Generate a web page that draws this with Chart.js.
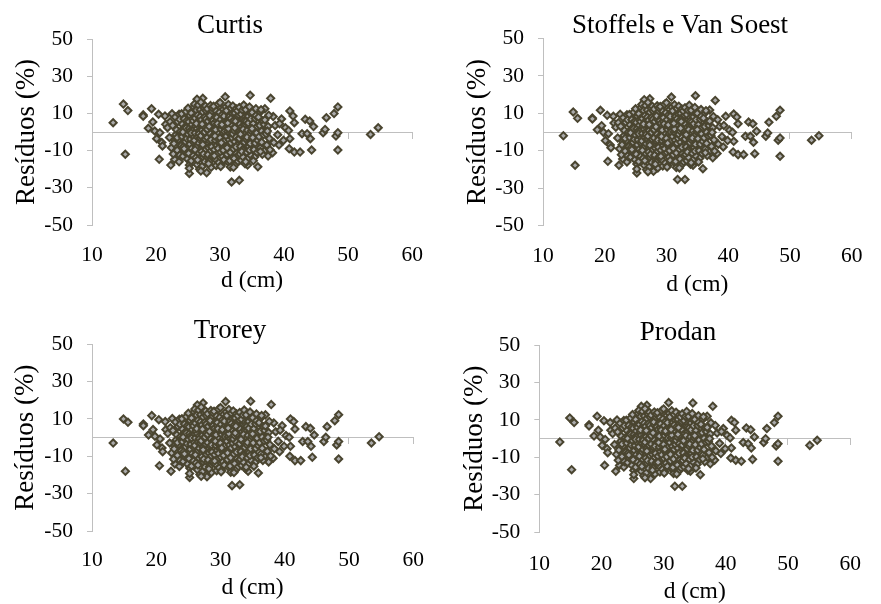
<!DOCTYPE html>
<html lang="pt">
<head>
<meta charset="utf-8">
<title>Resíduos por modelo</title>
<script src="https://cdn.jsdelivr.net/npm/chart.js@4.4.1/dist/chart.umd.min.js"></script>
<style>
  html, body { margin: 0; padding: 0; background: #fff; }
  #grade { position: relative; width: 881px; height: 604px; }
  .painel { position: absolute; width: 440px; height: 302px; }
</style>
</head>
<body>
<div id="grade">
  <div class="painel" style="left:0;top:0"><canvas id="g1" width="440" height="302"></canvas></div>
  <div class="painel" style="left:440px;top:0"><canvas id="g2" width="440" height="302"></canvas></div>
  <div class="painel" style="left:0;top:302px"><canvas id="g3" width="440" height="302"></canvas></div>
  <div class="painel" style="left:440px;top:302px"><canvas id="g4" width="440" height="302"></canvas></div>
</div>
<script>
// Diâmetro (d, cm) de cada árvore - o mesmo nos quatro modelos
const diametros = [
  13.3, 14.9, 15.6, 15.2, 18.0, 18.0, 19.3, 19.5, 18.8, 19.8,
  20.1, 20.4, 20.6, 20.9, 21.0, 20.5, 21.4, 21.5, 21.8, 22.1,
  22.3, 22.9, 23.6, 25.2, 25.2, 27.9, 31.8, 33.0, 34.3, 35.9,
  30.8, 34.7, 27.3, 26.4, 37.9, 38.3, 39.6, 40.9, 41.4, 41.6,
  40.2, 40.7, 40.9, 39.9, 40.8, 41.6, 42.5, 42.8, 43.3, 44.0,
  44.6, 43.6, 44.1, 44.3, 46.1, 46.4, 46.6, 47.8, 48.4, 48.1,
  48.4, 48.4, 53.5, 54.7, 38.4, 39.2, 37.5, 38.2, 36.9, 38.6,
  39.3, 37.2, 39.0, 37.0, 36.2,
  22.2, 22.4, 22.5, 22.7, 22.9,
  22.6, 22.8, 23.0, 23.1, 23.2, 23.3, 23.4, 23.5, 23.6, 23.7, 23.8, 23.9, 23.3, 23.7,
  24.0, 24.1, 24.1, 24.2, 24.3, 24.3, 24.4, 24.5, 24.5, 24.6, 24.6, 24.7, 24.8, 24.8, 24.9, 24.2, 24.4, 24.7,
  25.0, 25.0, 25.1, 25.1, 25.2, 25.3, 25.3, 25.4, 25.4, 25.5, 25.5, 25.6, 25.6, 25.7, 25.7, 25.8, 25.8, 25.9, 25.9, 25.2, 25.5, 25.8,
  26.0, 26.0, 26.1, 26.1, 26.2, 26.2, 26.3, 26.3, 26.4, 26.4, 26.5, 26.5, 26.5, 26.6, 26.6, 26.7, 26.7, 26.8, 26.8, 26.9, 26.9, 26.1, 26.3, 26.5, 26.7, 26.9,
  27.0, 27.0, 27.1, 27.1, 27.2, 27.2, 27.3, 27.3, 27.4, 27.4, 27.5, 27.5, 27.5, 27.6, 27.6, 27.7, 27.7, 27.8, 27.8, 27.9, 27.9, 27.0, 27.2, 27.4, 27.6, 27.8, 27.3, 27.7,
  28.0, 28.0, 28.1, 28.1, 28.2, 28.2, 28.3, 28.3, 28.4, 28.4, 28.5, 28.5, 28.5, 28.6, 28.6, 28.7, 28.7, 28.8, 28.8, 28.9, 28.9, 28.0, 28.2, 28.4, 28.6, 28.8, 28.3, 28.7,
  29.0, 29.0, 29.1, 29.1, 29.2, 29.2, 29.3, 29.3, 29.4, 29.4, 29.5, 29.5, 29.5, 29.6, 29.6, 29.7, 29.7, 29.8, 29.8, 29.9, 29.9, 29.1, 29.3, 29.5, 29.7, 29.9, 29.2, 29.6,
  30.0, 30.0, 30.1, 30.1, 30.2, 30.2, 30.3, 30.3, 30.4, 30.4, 30.5, 30.5, 30.5, 30.6, 30.6, 30.7, 30.7, 30.8, 30.8, 30.9, 30.9, 30.1, 30.3, 30.5, 30.7, 30.9, 30.2, 30.6,
  31.0, 31.0, 31.1, 31.1, 31.2, 31.2, 31.3, 31.3, 31.4, 31.4, 31.5, 31.5, 31.5, 31.6, 31.6, 31.7, 31.7, 31.8, 31.8, 31.9, 31.9, 31.1, 31.3, 31.5, 31.7, 31.9, 31.2, 31.6,
  32.0, 32.0, 32.1, 32.1, 32.2, 32.2, 32.3, 32.3, 32.4, 32.4, 32.5, 32.5, 32.6, 32.6, 32.7, 32.7, 32.8, 32.8, 32.9, 32.9, 32.1, 32.3, 32.5, 32.7, 32.9, 32.4,
  33.0, 33.0, 33.1, 33.1, 33.2, 33.2, 33.3, 33.3, 33.4, 33.4, 33.5, 33.5, 33.6, 33.6, 33.7, 33.7, 33.8, 33.8, 33.9, 33.9, 33.2, 33.4, 33.6, 33.8,
  34.0, 34.1, 34.1, 34.2, 34.3, 34.3, 34.4, 34.5, 34.5, 34.6, 34.6, 34.7, 34.8, 34.8, 34.9, 34.2, 34.4, 34.6, 34.8, 34.0,
  35.0, 35.1, 35.2, 35.3, 35.3, 35.4, 35.5, 35.5, 35.6, 35.7, 35.8, 35.8, 35.9, 35.2, 35.6, 35.0,
  36.0, 36.1, 36.2, 36.3, 36.4, 36.5, 36.5, 36.6, 36.7, 36.8, 36.9, 36.3,
  37.0, 37.2, 37.3, 37.5, 37.6, 37.7, 37.8, 37.4
];

// Resíduos (%) de cada modelo, na mesma ordem das árvores
const resCurtis = [
  5.0, 15.0, 11.5, -12.0, 9.2, 8.5, 12.5, 5.4, 2.0, 0.5,
  -3.6, 9.5, -0.4, -5.7, -7.5, -14.7, 8.6, 4.1, 2.3, -3.0,
  -17.8, -14.7, -16.0, -22.3, -17.8, -21.9, -26.9, -26.0, -17.8, -18.7,
  18.9, 19.7, 18.1, 17.6, 18.1, 8.3, 7.0, 11.3, 8.6, 5.0,
  2.3, 0.8, -3.6, -4.5, -9.0, -10.8, -10.8, -0.9, 6.8, 5.9,
  2.9, -0.9, -3.6, -9.7, -0.4, 1.4, 7.7, 9.9, 13.5, -2.2,
  -0.4, -9.7, -1.3, 2.3, -5.7, -7.0, -12.9, -11.1, -10.2, 3.5,
  4.5, 1.0, -1.5, 12.5, 10.5,
  5.5, -8.5, 9.8, -11.8, -4.5,
  3.5, -6.2, 8.0, -1.5, 1.2, -9.8, 5.6, -4.0, 9.5, -12.5, 0.3, -7.4, -3.0, 6.8,
  9.8, -2.5, 4.2, -13.0, 1.5, -7.8, 7.0, -0.8, -10.6, 3.0, -5.2, 11.0, -3.5, 6.0, -14.5, 0.0, -9.0, 2.2,
  12.8, -1.2, 5.5, -11.5, 2.0, -6.5, 8.8, -3.8, 0.8, -15.5, 10.2, -8.8, 4.0, -2.0, 7.2, -12.8, 1.0, -5.5, 13.5, -19.5, -0.5, 6.0,
  15.0, -4.5, 7.5, -0.5, -13.8, 3.2, 11.8, -8.0, 1.8, -17.5, 9.0, -2.8, 5.2, -11.0, 14.5, -6.0, 0.5, -20.0, 6.8, -3.2, 12.0, -9.5, 4.5, -15.0, -1.0, 8.2,
  16.0, -2.0, 6.5, -10.5, 1.0, -18.5, 10.8, -5.5, 3.5, -13.5, 13.0, -0.2, -7.5, 8.0, -16.0, 2.5, -3.8, 11.5, -9.2, 5.0, -1.5, -21.0, 4.2, -11.8, 0.0, 7.0, -6.8, 14.0,
  12.5, -3.0, 5.8, -12.2, 0.5, -8.5, 9.5, -15.8, 2.8, -5.0, 14.2, -1.0, 7.2, -19.0, -10.0, 4.0, 11.0, -2.5, -13.0, 6.2, -6.0, 1.5, -17.0, 8.8, -4.2, 13.0, 3.0, -8.0,
  13.8, -1.8, 4.8, -9.5, 0.8, -14.5, 8.2, -4.5, 11.2, -18.0, 2.0, -7.0, 6.0, -11.5, -0.5, 15.0, -3.5, 9.8, -16.5, 3.5, -6.2, -12.8, 1.2, 7.8, -8.8, 10.5, -2.2, 4.5,
  15.8, -3.2, 6.8, -10.8, 1.5, -17.8, 9.2, -6.5, 3.2, -13.2, 12.2, -0.8, -8.2, 5.5, -15.0, 2.2, -4.8, 10.8, -11.2, 7.5, -1.2, -18.5, 4.0, -9.8, 0.2, 13.5, -5.8, 8.5,
  11.5, -2.2, 5.2, -12.0, 0.2, -7.2, 14.8, -16.2, 2.5, -4.2, 8.5, -10.2, -0.5, 6.5, -18.8, 12.8, -5.8, 3.8, -13.8, 9.8, -1.5, -8.5, 1.8, -15.5, 7.2, -3.2, 4.8, -11.0,
  14.0, -1.0, 6.2, -9.0, 0.8, -14.2, 10.2, -5.2, 3.0, -17.5, 12.5, -2.8, -11.5, 7.8, -7.0, 1.2, -15.8, 4.5, 9.2, -3.8, -19.0, 2.2, -8.0, 11.5, -12.5, 5.8,
  13.2, -3.5, 4.2, -11.8, 0.0, -7.8, 9.5, -15.2, 2.8, -2.0, 11.8, -9.5, 6.8, -13.5, -0.2, 14.5, -5.5, 3.5, -17.0, 8.0, -1.2, -10.5, 1.5, 6.0,
  12.0, -4.0, 5.8, -11.0, 1.0, -14.5, 8.5, -1.8, -8.0, 3.2, 13.5, -6.2, 10.0, -12.5, 0.5, -2.8, 4.8, -9.8, 7.0, -16.0,
  10.5, -3.0, 4.5, -9.5, 0.8, -13.5, 7.2, -6.0, 12.5, -0.5, -11.0, 3.0, -4.5, -15.5, 8.8, 1.8,
  8.0, -2.5, 3.5, -8.5, 12.0, -5.5, 0.5, -12.0, 6.0, -1.5, 4.0, -10.5,
  6.5, -1.0, -7.0, 3.0, 9.0, -3.5, -9.5, 0.5
];

const resStoffels = [
  -2.0, 10.7, 7.3, -17.8, 7.5, 7.0, 11.6, 3.4, 1.2, -0.2,
  -4.6, 8.9, -0.9, -6.9, -8.4, -15.7, 8.4, 4.8, 2.5, -3.2,
  -17.8, -14.4, -16.0, -21.9, -17.1, -21.0, -25.4, -25.4, -17.8, -19.6,
  18.7, 19.4, 17.8, 17.3, 16.9, 6.6, 8.4, 9.6, 8.0, 4.4,
  1.0, -0.2, -5.0, -4.6, -10.7, -12.1, -12.1, -2.3, 5.3, 4.4,
  0.4, -2.3, -5.5, -11.6, -2.3, -0.5, 5.2, 8.4, 11.6, -4.4,
  -3.2, -13.0, -4.4, -2.0, -6.5, -8.0, -13.8, -11.5, -10.5, 3.0,
  3.5, 0.2, -2.5, 11.8, 10.0,
  5.0, -9.0, 9.5, -12.2, -5.0,
  3.0, -6.8, 7.6, -2.0, 0.8, -10.2, 5.2, -4.5, 9.2, -12.8, -0.2, -7.8, -3.4, 6.5,
  9.4, -3.0, 3.8, -13.4, 1.0, -8.2, 6.6, -1.2, -11.0, 2.6, -5.6, 10.6, -3.9, 5.6, -14.8, -0.4, -9.4, 1.8,
  12.4, -1.6, 5.1, -11.9, 1.6, -6.9, 8.4, -4.2, 0.4, -15.8, 9.8, -9.2, 3.6, -2.4, 6.8, -13.1, 0.6, -5.9, 13.1, -19.8, -0.9, 5.6,
  14.7, -4.8, 7.2, -0.8, -14.1, 2.9, 11.5, -8.3, 1.5, -17.8, 8.7, -3.1, 4.9, -11.3, 14.2, -6.3, 0.2, -20.2, 6.5, -3.5, 11.7, -9.8, 4.2, -15.3, -1.3, 7.9,
  15.8, -2.2, 6.3, -10.7, 0.8, -18.7, 10.6, -5.7, 3.3, -13.7, 12.8, -0.4, -7.7, 7.8, -16.2, 2.3, -4.0, 11.3, -9.4, 4.8, -1.7, -21.2, 4.0, -12.0, -0.2, 6.8, -7.0, 13.8,
  12.3, -3.2, 5.6, -12.4, 0.3, -8.7, 9.3, -16.0, 2.6, -5.2, 14.0, -1.2, 7.0, -19.2, -10.2, 3.8, 10.8, -2.7, -13.2, 6.0, -6.2, 1.3, -17.2, 8.6, -4.4, 12.8, 2.8, -8.2,
  13.6, -2.0, 4.6, -9.7, 0.6, -14.7, 8.0, -4.7, 11.0, -18.2, 1.8, -7.2, 5.8, -11.7, -0.7, 14.8, -3.7, 9.6, -16.7, 3.3, -6.4, -13.0, 1.0, 7.6, -9.0, 10.3, -2.4, 4.3,
  15.6, -3.4, 6.6, -11.0, 1.3, -18.0, 9.0, -6.7, 3.0, -13.4, 12.0, -1.0, -8.4, 5.3, -15.2, 2.0, -5.0, 10.6, -11.4, 7.3, -1.4, -18.7, 3.8, -10.0, 0.0, 13.3, -6.0, 8.3,
  11.3, -2.4, 5.0, -12.2, 0.0, -7.4, 14.6, -16.4, 2.3, -4.4, 8.3, -10.4, -0.7, 6.3, -19.0, 12.6, -6.0, 3.6, -14.0, 9.6, -1.7, -8.7, 1.6, -15.7, 7.0, -3.4, 4.6, -11.2,
  13.8, -1.2, 6.0, -9.2, 0.6, -14.4, 10.0, -5.4, 2.8, -17.7, 12.3, -3.0, -11.7, 7.6, -7.2, 1.0, -16.0, 4.3, 9.0, -4.0, -19.2, 2.0, -8.2, 11.3, -12.7, 5.6,
  13.0, -3.7, 4.0, -12.0, -0.2, -8.0, 9.3, -15.4, 2.6, -2.2, 11.6, -9.7, 6.6, -13.7, -0.4, 14.3, -5.7, 3.3, -17.2, 7.8, -1.4, -10.7, 1.3, 5.8,
  11.6, -4.4, 5.4, -11.4, 0.6, -14.9, 8.1, -2.2, -8.4, 2.8, 13.1, -6.6, 9.6, -12.9, 0.1, -3.2, 4.4, -10.2, 6.6, -16.4,
  10.0, -3.5, 4.0, -10.0, 0.3, -14.0, 6.7, -6.5, 12.0, -1.0, -11.5, 2.5, -5.0, -16.0, 8.3, 1.3,
  7.4, -3.1, 2.9, -9.1, 11.4, -6.1, -0.1, -12.6, 5.4, -2.1, 3.4, -11.1,
  5.8, -1.7, -7.7, 2.3, 8.3, -4.2, -10.2, -0.2
];

const resTrorey = [
  -2.9, 10.0, 8.2, -18.0, 7.3, 6.4, 11.8, 4.3, 1.4, 0.7,
  -3.9, 9.6, -0.7, -5.5, -7.5, -15.0, 8.6, 4.3, 2.3, -2.9,
  -18.0, -14.1, -15.4, -21.3, -16.3, -20.9, -25.7, -25.2, -18.0, -18.9,
  19.3, 19.5, 18.6, 17.5, 17.7, 7.9, 6.4, 10.0, 8.6, 4.6,
  1.1, 0.2, -4.6, -4.6, -10.0, -12.3, -12.3, -2.1, 5.9, 5.0,
  1.4, -2.1, -4.6, -10.5, -2.1, 0.2, 5.9, 9.1, 12.3, -3.9,
  -2.1, -11.4, -2.9, 0.5, -6.0, -7.5, -13.0, -11.0, -10.0, 3.2,
  4.0, 0.5, -2.0, 12.2, 10.2,
  5.3, -8.2, 10.2, -11.5, -4.2,
  3.8, -6.0, 8.4, -1.2, 1.5, -9.5, 6.0, -3.7, 9.9, -12.2, 0.6, -7.1, -2.7, 7.1,
  10.1, -2.2, 4.5, -12.7, 1.8, -7.5, 7.3, -0.5, -10.3, 3.3, -4.9, 11.3, -3.2, 6.3, -14.2, 0.3, -8.7, 2.5,
  13.1, -0.9, 5.8, -11.2, 2.3, -6.2, 9.1, -3.5, 1.1, -15.2, 10.5, -8.5, 4.3, -1.7, 7.5, -12.5, 1.3, -5.2, 13.8, -19.2, -0.2, 6.3,
  15.3, -4.2, 7.8, -0.2, -13.5, 3.5, 12.1, -7.7, 2.1, -17.2, 9.3, -2.5, 5.5, -10.7, 14.8, -5.7, 0.8, -19.7, 7.1, -2.9, 12.3, -9.2, 4.8, -14.7, -0.7, 8.5,
  16.3, -1.7, 6.8, -10.2, 1.3, -18.2, 11.1, -5.2, 3.8, -13.2, 13.3, 0.1, -7.2, 8.3, -15.7, 2.8, -3.5, 11.8, -8.9, 5.3, -1.2, -20.7, 4.5, -11.5, 0.3, 7.3, -6.5, 14.3,
  12.8, -2.7, 6.1, -11.9, 0.8, -8.2, 9.8, -15.5, 3.1, -4.7, 14.5, -0.7, 7.5, -18.7, -9.7, 4.3, 11.3, -2.2, -12.7, 6.5, -5.7, 1.8, -16.7, 9.1, -3.9, 13.3, 3.3, -7.7,
  14.1, -1.5, 5.1, -9.2, 1.1, -14.2, 8.5, -4.2, 11.5, -17.7, 2.3, -6.7, 6.3, -11.2, -0.2, 15.3, -3.2, 10.1, -16.2, 3.8, -5.9, -12.5, 1.5, 8.1, -8.5, 10.8, -1.9, 4.8,
  16.1, -2.9, 7.1, -10.5, 1.8, -17.5, 9.5, -6.2, 3.5, -12.9, 12.5, -0.5, -7.9, 5.8, -14.7, 2.5, -4.5, 11.1, -10.9, 7.8, -0.9, -18.2, 4.3, -9.5, 0.5, 13.8, -5.5, 8.8,
  11.8, -1.9, 5.5, -11.7, 0.5, -6.9, 15.1, -15.9, 2.8, -3.9, 8.8, -9.9, -0.2, 6.8, -18.5, 13.1, -5.5, 4.1, -13.5, 10.1, -1.2, -8.2, 2.1, -15.2, 7.5, -2.9, 5.1, -10.7,
  14.3, -0.7, 6.5, -8.7, 1.1, -13.9, 10.5, -4.9, 3.3, -17.2, 12.8, -2.5, -11.2, 8.1, -6.7, 1.5, -15.5, 4.8, 9.5, -3.5, -18.7, 2.5, -7.7, 11.8, -12.2, 6.1,
  13.5, -3.2, 4.5, -11.5, 0.3, -7.5, 9.8, -14.9, 3.1, -1.7, 12.1, -9.2, 7.1, -13.2, 0.1, 14.8, -5.2, 3.8, -16.7, 8.3, -0.9, -10.2, 1.8, 6.3,
  12.2, -3.8, 6.0, -10.8, 1.2, -14.3, 8.7, -1.6, -7.8, 3.4, 13.7, -6.0, 10.2, -12.3, 0.7, -2.6, 5.0, -9.6, 7.2, -15.8,
  10.7, -2.8, 4.7, -9.3, 1.0, -13.3, 7.4, -5.8, 12.7, -0.3, -10.8, 3.2, -4.3, -15.3, 9.0, 2.0,
  8.0, -2.7, 3.3, -8.7, 11.8, -5.7, 0.3, -12.2, 5.8, -1.7, 3.8, -10.7,
  6.2, -1.3, -7.3, 2.7, 8.7, -3.8, -9.8, 0.2
];

const resProdan = [
  -1.8, 11.1, 8.6, -16.6, 7.5, 6.8, 12.0, 4.5, 1.4, 0.9,
  -3.6, 9.6, -0.4, -5.4, -7.5, -14.3, 8.6, 4.5, 2.7, -3.2,
  -17.5, -14.3, -15.2, -21.4, -17.0, -21.4, -25.5, -25.5, -17.5, -19.3,
  19.3, 19.1, 17.9, 17.3, 17.3, 7.1, 5.4, 9.8, 8.6, 4.5,
  1.8, 0.4, -5.0, -5.4, -10.4, -11.6, -12.1, -2.1, 5.7, 4.8,
  0.9, -2.7, -5.0, -11.1, -2.1, 0.0, 5.4, 8.6, 12.0, -3.9,
  -2.7, -12.1, -3.6, -0.9, -6.5, -8.0, -13.5, -11.5, -10.5, 3.0,
  3.8, 0.5, -2.5, 12.0, 10.0,
  5.6, -8.4, 10.0, -11.6, -4.4,
  3.6, -6.1, 8.2, -1.4, 1.3, -9.6, 5.8, -3.9, 9.7, -12.3, 0.4, -7.3, -2.9, 6.9,
  9.9, -2.4, 4.3, -12.8, 1.6, -7.6, 7.1, -0.7, -10.4, 3.1, -5.0, 11.1, -3.4, 6.1, -14.3, 0.1, -8.8, 2.3,
  12.9, -1.1, 5.6, -11.3, 2.1, -6.3, 8.9, -3.7, 0.9, -15.3, 10.3, -8.6, 4.1, -1.9, 7.3, -12.6, 1.1, -5.4, 13.6, -19.3, -0.4, 6.1,
  15.1, -4.4, 7.6, -0.4, -13.7, 3.3, 11.9, -7.9, 1.9, -17.4, 9.1, -2.7, 5.3, -10.9, 14.6, -5.9, 0.6, -19.9, 6.9, -3.1, 12.1, -9.4, 4.6, -14.9, -0.9, 8.3,
  16.1, -1.9, 6.6, -10.4, 1.1, -18.4, 10.9, -5.4, 3.6, -13.4, 13.1, -0.1, -7.4, 8.1, -15.9, 2.6, -3.7, 11.6, -9.1, 5.1, -1.4, -20.9, 4.3, -11.7, 0.1, 7.1, -6.7, 14.1,
  12.6, -2.9, 5.9, -12.1, 0.6, -8.4, 9.6, -15.7, 2.9, -4.9, 14.3, -0.9, 7.3, -18.9, -9.9, 4.1, 11.1, -2.4, -12.9, 6.3, -5.9, 1.6, -16.9, 8.9, -4.1, 13.1, 3.1, -7.9,
  13.9, -1.7, 4.9, -9.4, 0.9, -14.4, 8.3, -4.4, 11.3, -17.9, 2.1, -6.9, 6.1, -11.4, -0.4, 15.1, -3.4, 9.9, -16.4, 3.6, -6.1, -12.7, 1.3, 7.9, -8.7, 10.6, -2.1, 4.6,
  15.9, -3.1, 6.9, -10.7, 1.6, -17.7, 9.3, -6.4, 3.3, -13.1, 12.3, -0.7, -8.1, 5.6, -14.9, 2.3, -4.7, 10.9, -11.1, 7.6, -1.1, -18.4, 4.1, -9.7, 0.3, 13.6, -5.7, 8.6,
  11.6, -2.1, 5.3, -11.9, 0.3, -7.1, 14.9, -16.1, 2.6, -4.1, 8.6, -10.1, -0.4, 6.6, -18.7, 12.9, -5.7, 3.9, -13.7, 9.9, -1.4, -8.4, 1.9, -15.4, 7.3, -3.1, 4.9, -10.9,
  14.1, -0.9, 6.3, -8.9, 0.9, -14.1, 10.3, -5.1, 3.1, -17.4, 12.6, -2.7, -11.4, 7.9, -6.9, 1.3, -15.7, 4.6, 9.3, -3.7, -18.9, 2.3, -7.9, 11.6, -12.4, 5.9,
  13.3, -3.4, 4.3, -11.7, 0.1, -7.7, 9.6, -15.1, 2.9, -1.9, 11.9, -9.4, 6.9, -13.4, -0.1, 14.6, -5.4, 3.6, -16.9, 8.1, -1.1, -10.4, 1.6, 6.1,
  11.9, -4.1, 5.7, -11.1, 0.9, -14.6, 8.4, -1.9, -8.1, 3.1, 13.4, -6.3, 9.9, -12.6, 0.4, -2.9, 4.7, -9.9, 6.9, -16.1,
  10.3, -3.2, 4.3, -9.7, 0.6, -13.7, 7.0, -6.2, 12.3, -0.7, -11.2, 2.8, -4.7, -15.7, 8.6, 1.6,
  7.7, -2.8, 3.2, -8.8, 11.7, -5.8, 0.2, -12.3, 5.7, -1.8, 3.7, -10.8,
  6.0, -1.5, -7.5, 2.5, 8.5, -4.0, -10.0, 0.0
];

const modelos = ['Curtis', 'Stoffels e Van Soest', 'Trorey', 'Prodan'];
const residuos = [resCurtis, resStoffels, resTrorey, resProdan];

// eixos
const eixoX = [10, 60];
const passoX = 10;
const eixoY = [-50, 50];
const passoY = 20;

const FONTE = '"Liberation Serif", "Times New Roman", serif';
const CINZA = '#BFBFBF';

// posição da área do gráfico em cada painel (px, dentro do canvas de 440x302)
const geometria = [
  { left: 92, right: 418, top: 39, bottom: 225, yTitulo: 26.5, xRotulo: 255, xTitulo: 281, tX: 230, tY: 32.5 },
  { left: 103, right: 425, top: 38.5, bottom: 225.5, yTitulo: 38, xRotulo: 256, xTitulo: 285, tX: 240, tY: 32.5 },
  { left: 92, right: 415, top: 42.3, bottom: 229, yTitulo: 26, xRotulo: 258, xTitulo: 286, tX: 230, tY: 36 },
  { left: 99.3, right: 421.7, top: 43.3, bottom: 230, yTitulo: 35, xRotulo: 262, xTitulo: 290, tX: 238, tY: 38 }
];

// título do painel desenhado no canvas (centralizado como no Excel, não no eixo)
const tituloPainel = {
  id: 'tituloPainel',
  afterDraw(chart, args, opts) {
    const ctx = chart.ctx;
    ctx.save();
    ctx.font = '27px ' + FONTE;
    ctx.fillStyle = '#000';
    ctx.textAlign = 'center';
    ctx.textBaseline = 'alphabetic';
    ctx.fillText(opts.text, opts.x, opts.y);
    ctx.restore();
  }
};

if (diametros.length !== resCurtis.length || diametros.length !== resStoffels.length ||
    diametros.length !== resTrorey.length || diametros.length !== resProdan.length) {
  console.error('tamanhos diferentes', diametros.length, resCurtis.length, resStoffels.length, resTrorey.length, resProdan.length);
}

const W = 440, H = 302;
const tamTick = 21.5, tamTituloX = 23.5, tamTituloY = 27;

modelos.forEach((nome, i) => {
  const g = geometria[i];
  const padL = g.yTitulo - tamTituloY * 1.2 / 2;
  const ctx = document.getElementById('g' + (i + 1)).getContext('2d');

  new Chart(ctx, {
    type: 'scatter',
    data: {
      datasets: [{
        data: diametros.map((d, k) => ({ x: d, y: residuos[i][k] })),
        pointStyle: 'rectRot',
        pointRadius: 3.6,
        pointBackgroundColor: '#AAAAAA',
        pointBorderColor: '#4A4530',
        pointBorderWidth: 2
      }]
    },
    plugins: [tituloPainel],
    options: {
      responsive: false,
      animation: false,
      events: [],
      layout: { padding: { left: padL, right: W - g.right, top: g.top, bottom: 0 } },
      plugins: {
        legend: { display: false },
        tooltip: { enabled: false },
        tituloPainel: { text: nome, x: g.tX, y: g.tY }
      },
      scales: {
        x: {
          type: 'linear', position: 'bottom', min: eixoX[0], max: eixoX[1],
          grid: { display: false, drawTicks: false },
          border: { display: false },
          ticks: { stepSize: passoX, color: '#000', font: { family: FONTE, size: tamTick },
                   padding: g.xRotulo - g.bottom - tamTick * 1.2 / 2, maxRotation: 0 },
          title: { display: true, text: 'd (cm)', color: '#000', font: { family: FONTE, size: tamTituloX },
                   padding: { top: 0, bottom: H - g.xTitulo - tamTituloX * 1.2 / 2 } },
          afterFit: s => { s.height = H - g.bottom; }
        },
        // linha do zero com as marcas de escala
        x0: {
          type: 'linear', axis: 'x', position: { y: 0 }, min: eixoX[0], max: eixoX[1],
          ticks: { display: false, stepSize: passoX },
          grid: { drawOnChartArea: false, drawTicks: true, tickLength: 6, color: CINZA, lineWidth: 1 },
          border: { display: true, color: CINZA, width: 1 }
        },
        y: {
          type: 'linear', position: 'left', min: eixoY[0], max: eixoY[1],
          ticks: { stepSize: passoY, color: '#000', font: { family: FONTE, size: tamTick }, padding: 14 },
          grid: { drawOnChartArea: false, drawTicks: true, tickLength: 5, color: CINZA, lineWidth: 1 },
          border: { display: true, color: CINZA, width: 1 },
          title: { display: true, text: 'Resíduos (%)', color: '#000', font: { family: FONTE, size: tamTituloY },
                   padding: { top: 0, bottom: 0 } },
          afterFit: s => { s.width = g.left - padL; }
        }
      }
    }
  });
});
</script>
</body>
</html>
